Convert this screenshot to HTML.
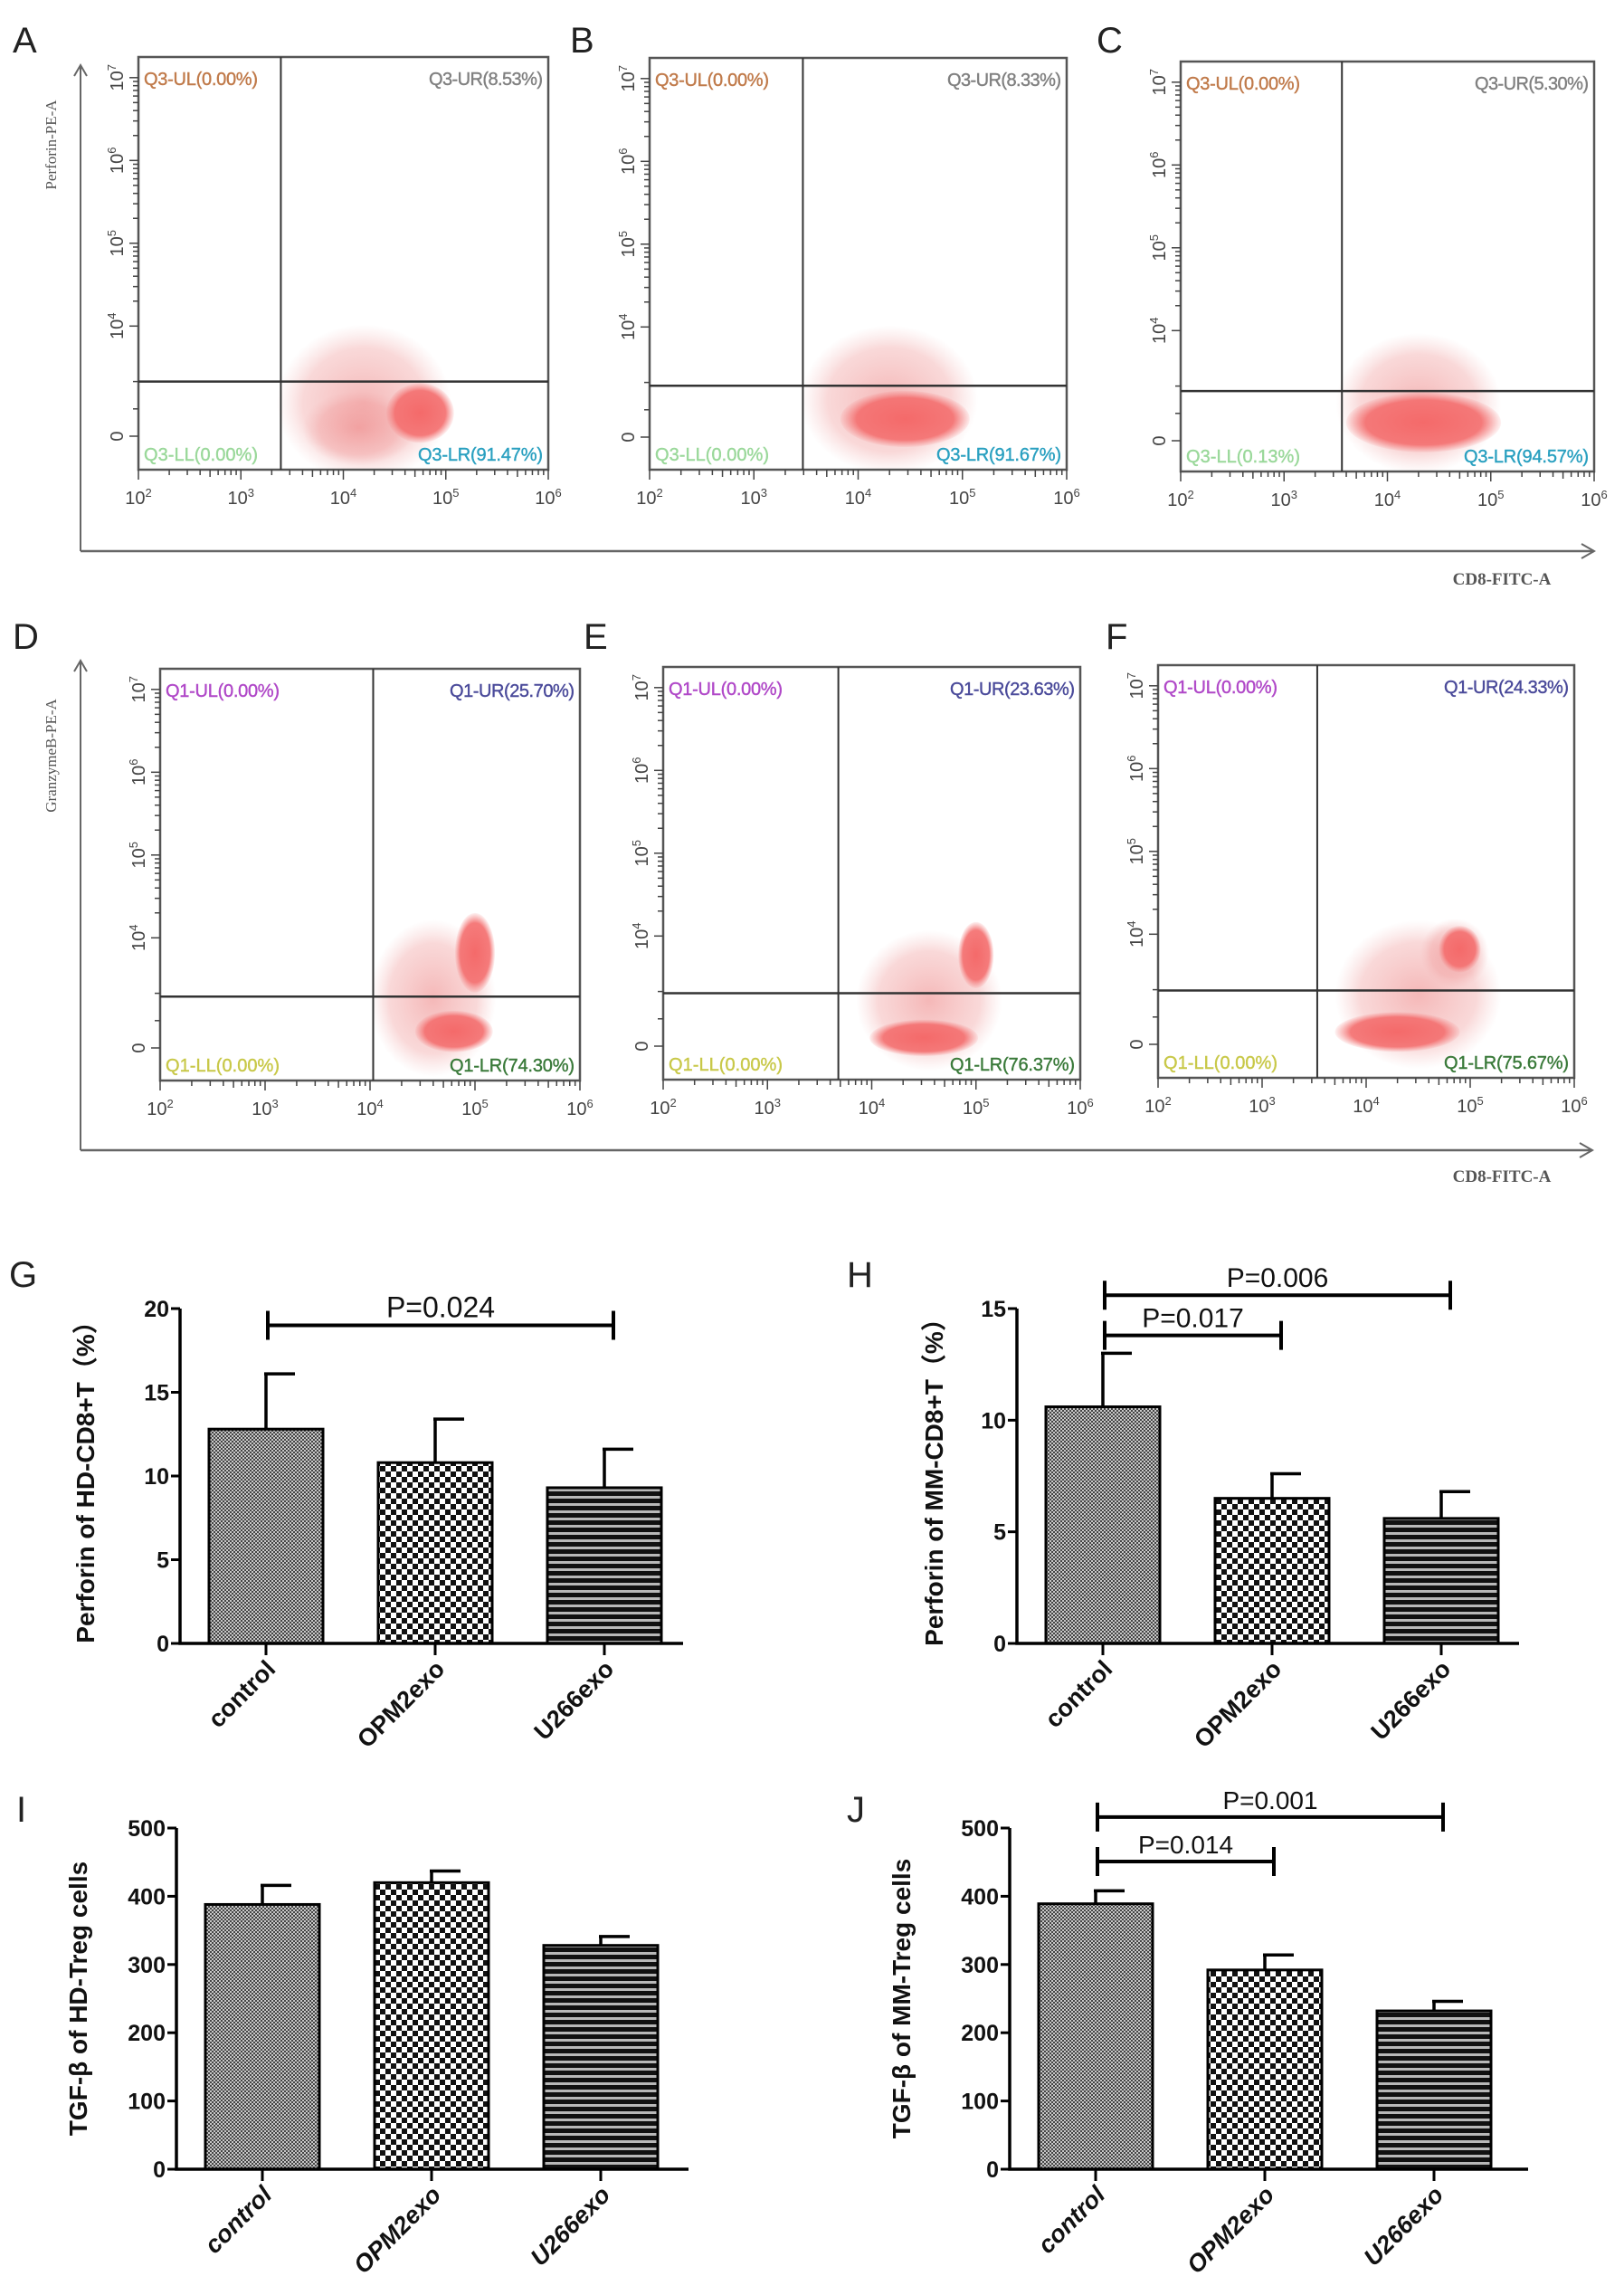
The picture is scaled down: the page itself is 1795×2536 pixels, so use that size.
<!DOCTYPE html>
<html>
<head>
<meta charset="utf-8">
<style>
html,body{margin:0;padding:0;background:#fff;}
svg{display:block;}
</style>
</head>
<body>
<svg id="fig" xmlns="http://www.w3.org/2000/svg" width="1795" height="2536" viewBox="0 0 1795 2536">
<defs>
  <radialGradient id="dense" cx="50%" cy="50%" r="50%">
    <stop offset="0" stop-color="#f46a6a" stop-opacity="1"/>
    <stop offset="0.75" stop-color="#f47070" stop-opacity="0.92"/>
    <stop offset="1" stop-color="#f48080" stop-opacity="0.1"/>
  </radialGradient>
  <radialGradient id="sparse" cx="50%" cy="50%" r="50%">
    <stop offset="0" stop-color="#ee8888" stop-opacity="0.6"/>
    <stop offset="0.7" stop-color="#f09a9a" stop-opacity="0.38"/>
    <stop offset="1" stop-color="#f0b0b0" stop-opacity="0"/>
  </radialGradient>
  <pattern id="patFine" width="4" height="4" patternUnits="userSpaceOnUse">
    <rect width="4" height="4" fill="#c8c8c8"/>
    <rect width="2" height="2" fill="#444"/>
    <rect x="2" y="2" width="2" height="2" fill="#444"/>
  </pattern>
  <pattern id="patCheck" width="12" height="12" patternUnits="userSpaceOnUse">
    <rect width="12" height="12" fill="#fff"/>
    <rect width="6" height="6" fill="#111"/>
    <rect x="6" y="6" width="6" height="6" fill="#111"/>
  </pattern>
  <pattern id="patStripe" width="8" height="8" patternUnits="userSpaceOnUse">
    <rect width="8" height="8" fill="#111"/>
    <rect y="5" width="8" height="3" fill="#b8b8b8"/>
  </pattern>
</defs>
<g id="flow"></g>
<g id="bars"></g>
</svg>
<script>
// ---------- FLOW DATA ----------
const flowIds = ['A','B','C','D','E','F'];
const flowQuadUL = ['Q3-UL(0.00%)','Q3-UL(0.00%)','Q3-UL(0.00%)','Q1-UL(0.00%)','Q1-UL(0.00%)','Q1-UL(0.00%)'];
const flowQuadUR = ['Q3-UR(8.53%)','Q3-UR(8.33%)','Q3-UR(5.30%)','Q1-UR(25.70%)','Q1-UR(23.63%)','Q1-UR(24.33%)'];
const flowQuadLL = ['Q3-LL(0.00%)','Q3-LL(0.00%)','Q3-LL(0.13%)','Q1-LL(0.00%)','Q1-LL(0.00%)','Q1-LL(0.00%)'];
const flowQuadLR = ['Q3-LR(91.47%)','Q3-LR(91.67%)','Q3-LR(94.57%)','Q1-LR(74.30%)','Q1-LR(76.37%)','Q1-LR(75.67%)'];
const flowGateX = [3.39, 3.47, 3.56, 4.03, 3.68, 3.53];
const flowGateY = [0.66, 0.62, 0.60, 0.62, 0.64, 0.65];
const flowClustersA = [[4.2,0.4,0.85,0.95,'s'],[4.15,0.1,0.55,0.45,'s'],[4.75,0.28,0.33,0.36,'d']];
const flowClustersB = [[4.3,0.45,0.85,0.9,'s'],[4.45,0.22,0.62,0.34,'d']];
const flowClustersC = [[4.3,0.45,0.8,0.85,'s'],[4.35,0.22,0.75,0.36,'d']];
const flowClustersD = [[4.6,0.6,0.6,0.95,'s'],[5.0,1.15,0.19,0.48,'d'],[4.8,0.2,0.37,0.25,'d']];
const flowClustersE = [[4.55,0.55,0.7,0.85,'s'],[5.0,1.1,0.17,0.4,'d'],[4.5,0.1,0.52,0.22,'d']];
const flowClustersF = [[4.5,0.6,0.8,0.9,'s'],[4.85,1.1,0.33,0.42,'s'],[4.9,1.15,0.2,0.28,'d'],[4.3,0.15,0.6,0.24,'d']];
const flowClusters = [flowClustersA,flowClustersB,flowClustersC,flowClustersD,flowClustersE,flowClustersF];
const flowXTicks = [2,3,4,5,6];
const flowYTickVals = [0,1.33,2.33,3.33,4.33];
const flowYTickLabels = ['0','10^4','10^5','10^6','10^7'];

// ---------- BAR DATA ----------
const categories = ['control','OPM2exo','U266exo'];
const gMeans = [12.8,10.8,9.3];
const gErr = [3.3,2.6,2.3];
const hMeans = [10.6,6.5,5.6];
const hErr = [2.4,1.1,1.2];
const iMeans = [388,420,328];
const iErr = [28,17,13];
const jMeans = [389,292,232];
const jErr = [19,22,14];
const gTicks = [0,5,10,15,20];
const hTicks = [0,5,10,15];
const ijTicks = [0,100,200,300,400,500];
const gSig = [[0,2,19.0,'P=0.024']];
const hSig = [[0,2,15.6,'P=0.006'],[0,1,13.8,'P=0.017']];
const jSig = [[0,2,516,'P=0.001'],[0,1,451,'P=0.014']];

const NS='http://www.w3.org/2000/svg';
function el(tag, attrs, parent){const e=document.createElementNS(NS,tag);for(const k in attrs)e.setAttribute(k,attrs[k]);parent.appendChild(e);return e;}

const flowBox = [[153,63,606,519,482],[718,64,1179,519,483],[1305,68,1762,521,487],
                 [177,739,641,1194,1158],[733,737,1194,1193,1156],[1280,735,1740,1191,1154]];
const flowLetterPos = [[14,58],[630,58],[1212,58],[14,717],[645,717],[1222,717]];
const ulColor = ['#c07a4a','#c07a4a','#c07a4a','#b048c8','#b048c8','#b048c8'];
const urColor = ['#808080','#808080','#808080','#4a4a9a','#4a4a9a','#4a4a9a'];
const llColor = ['#9ad89a','#9ad89a','#9ad89a','#c8c848','#c8c848','#c8c848'];
const lrColor = ['#2aa0c0','#2aa0c0','#2aa0c0','#3a7a3a','#3a7a3a','#3a7a3a'];

const flowG = document.getElementById('flow');
for(let p=0;p<6;p++){
  const [L,T,R,B,Z] = flowBox[p];
  const pxDecX = (R-L)/4, pxDecY = 91.5;
  const xS = v => L + (v-2)*pxDecX;
  const yS = v => Z - v*pxDecY;
  const g = el('g',{},flowG);
  
  
  const lt = el('text',{x:flowLetterPos[p][0],y:flowLetterPos[p][1],'font-family':'Liberation Sans, sans-serif','font-size':40,fill:'#222'},g);
  lt.textContent = flowIds[p];
  
  
  const cg = el('g',{},g);
  
  
  flowClusters[p].forEach(c=>{
    const e = el('ellipse',{cx:xS(c[0]),cy:yS(c[1]),rx:c[2]*pxDecX,ry:c[3]*pxDecY,fill:c[4]==='d'?'url(#dense)':'url(#sparse)'},cg);
    
    
  });
  el('rect',{x:L-2,y:B+1,width:R-L+4,height:40,fill:'#fff'},g);
  const box = el('rect',{x:L,y:T,width:R-L,height:B-T,fill:'none',stroke:'#555','stroke-width':2.5},g);
  
  
  const gx = xS(flowGateX[p]), gy = yS(flowGateY[p]);
  const gv = el('line',{x1:gx,y1:T,x2:gx,y2:B,stroke:'#333','stroke-width':2},g);
  
  
  const gh = el('line',{x1:L,y1:gy,x2:R,y2:gy,stroke:'#333','stroke-width':2.5},g);
  
  
  for(let d=2;d<6;d++){for(let k=1;k<10;k++){const xv=xS(d+Math.log10(k));el('line',{x1:xv,y1:B,x2:xv,y2:B+(k===1?11:(k===5?8:6)),stroke:'#444','stroke-width':1.5},g);}}
  el('line',{x1:R,y1:B,x2:R,y2:B+11,stroke:'#444','stroke-width':1.5},g);
  flowXTicks.forEach(t=>{
    const tx = el('text',{x:xS(t),y:B+38,'text-anchor':'middle','font-family':'Liberation Sans, sans-serif','font-size':20,fill:'#444'},g);
    tx.innerHTML = '10<tspan dy="-8" font-size="13">'+t+'</tspan>';
    
    
  });
  for(let d=1;d<4;d++){for(let k=1;k<10;k++){const yv=yS(1.33+(d-1)+Math.log10(k));el('line',{x1:L,y1:yv,x2:L-(k===1?10:6),y2:yv,stroke:'#444','stroke-width':1.5},g);}}
  [0,0.33,0.66].forEach(v=>el('line',{x1:L,y1:yS(v),x2:L-(v===0?10:6),y2:yS(v),stroke:'#444','stroke-width':1.5},g));
  el('line',{x1:L,y1:yS(4.33),x2:L-10,y2:yS(4.33),stroke:'#444','stroke-width':1.5},g);
  flowYTickVals.forEach((v,i)=>{
    const yy=yS(v), xx=L-17;
    const tx = el('text',{x:0,y:0,transform:'translate('+xx+','+yy+') rotate(-90)','text-anchor':'middle','font-family':'Liberation Sans, sans-serif','font-size':20,fill:'#444'},g);
    const lab = flowYTickLabels[i];
    if(lab==='0') tx.textContent='0'; else tx.innerHTML='10<tspan dy="-8" font-size="13">'+lab.split('^')[1]+'</tspan>';
    
    
  });
  const qs=[[flowQuadUL[p],L+6,T+31,'start',ulColor[p],'quadrant-ul'],[flowQuadUR[p],R-6,T+31,'end',urColor[p],'quadrant-ur'],
            [flowQuadLL[p],L+6,B-10,'start',llColor[p],'quadrant-ll'],[flowQuadLR[p],R-6,B-10,'end',lrColor[p],'quadrant-lr']];
  qs.forEach(q=>{
    const t = el('text',{x:q[1],y:q[2],'text-anchor':q[3],'font-family':'Liberation Sans, sans-serif','font-size':20,fill:q[4],stroke:q[4],'stroke-width':0.4,textLength:(q[0].length>12?138:126)},g);
    t.textContent=q[0];
    
    
  });
}
function bigAxes(yTop,yBot,xEnd,ylab,ylabY,xlabY){
  const g = el('g',{},flowG);
  
  
  el('line',{x1:89,y1:yTop,x2:89,y2:yBot,stroke:'#666','stroke-width':2},g);
  el('path',{d:'M82 '+(yTop+12)+' L89 '+yTop+' L96 '+(yTop+12),fill:'none',stroke:'#666','stroke-width':2},g);
  el('line',{x1:89,y1:yBot,x2:xEnd,y2:yBot,stroke:'#666','stroke-width':2.5},g);
  el('path',{d:'M'+(xEnd-14)+' '+(yBot-8)+' L'+xEnd+' '+yBot+' L'+(xEnd-14)+' '+(yBot+8),fill:'none',stroke:'#666','stroke-width':2},g);
  const yl = el('text',{x:0,y:0,transform:'translate(62,'+ylabY+') rotate(-90)','text-anchor':'middle','font-family':'Liberation Serif, serif','font-size':17,fill:'#555'},g);
  yl.textContent=ylab;
  
  
  const xl = el('text',{x:1660,y:xlabY,'text-anchor':'middle','font-family':'Liberation Serif, serif','font-size':19,'font-weight':'bold',fill:'#555'},g);
  xl.textContent='CD8-FITC-A';
  
  
}
bigAxes(72,609,1762,'Perforin-PE-A',160,646);
bigAxes(730,1271,1760,'GranzymeB-PE-A',835,1306);

const barPats = ['url(#patFine)','url(#patCheck)','url(#patStripe)'];
const barsG = document.getElementById('bars');
function barChart(cfg){
  const {letter,lx,ly,x0,xEnd,yTop,yBot,max,means,errs,ticks,sig,ylab,ylabX,pFont} = cfg;
  const g = el('g',{},barsG);
  
  
  const yS = v => yBot - v/max*(yBot-yTop);
  const xC = i => x0 + 95 + 187*i;
  const bw = 126;
  const rot = -45;
  const lt = el('text',{x:lx,y:ly,'font-family':'Liberation Sans, sans-serif','font-size':40,fill:'#222'},g);
  lt.textContent=letter;
  
  
  means.forEach((m,i)=>{
    const r = el('rect',{x:xC(i)-bw/2,y:yS(m),width:bw,height:yBot-yS(m),fill:barPats[i],stroke:'#000','stroke-width':3},g);
    
    
    const top = yS(m+errs[i]);
    const e = el('path',{d:'M'+xC(i)+' '+yS(m)+' V'+top+' M'+(xC(i)-2)+' '+top+' H'+(xC(i)+32),stroke:'#000','stroke-width':3.5,fill:'none'},g);
    
    
    el('line',{x1:xC(i),y1:yBot,x2:xC(i),y2:yBot+13,stroke:'#000','stroke-width':3},g);
    const ct = el('text',{x:0,y:0,transform:'translate('+(xC(i)+12)+','+(yBot+30)+') rotate('+rot+')','text-anchor':'end','font-family':'Liberation Sans, sans-serif','font-size':27,'font-weight':'bold','font-style':cfg.italic?'italic':'normal',fill:'#111'},g);
    ct.textContent=categories[i];
    
    
  });
  const ax = el('path',{d:'M'+x0+' '+yS(max)+' V'+yBot+' H'+xEnd,stroke:'#000','stroke-width':3.5,fill:'none'},g);
  
  
  ticks.forEach(t=>{
    el('line',{x1:x0,y1:yS(t),x2:x0-10,y2:yS(t),stroke:'#000','stroke-width':3},g);
    const tt = el('text',{x:x0-12,y:yS(t)+9,'text-anchor':'end','font-family':'Liberation Sans, sans-serif','font-size':25,'font-weight':'bold',fill:'#111'},g);
    tt.textContent=t;
    
    
  });
  sig.forEach(s=>{
    const a=xC(s[0])+2, b=xC(s[1])+10, yy=yS(s[2]);
    const sl = el('path',{d:'M'+a+' '+(yy-16)+' V'+(yy+16)+' M'+a+' '+yy+' H'+b+' M'+b+' '+(yy-16)+' V'+(yy+16),stroke:'#000','stroke-width':4,fill:'none'},g);
    
    
    const st = el('text',{x:(a+b)/2,y:yy-9,'text-anchor':'middle','font-family':'Liberation Sans, sans-serif','font-size':pFont,fill:'#111'},g);
    st.textContent=s[3];
    
    
  });
  const yl = el('text',{x:0,y:0,transform:'translate('+ylabX+','+((yTop+yBot)/2)+') rotate(-90)','text-anchor':'middle','font-family':'Liberation Sans, "Noto Sans CJK SC", sans-serif','font-size':28,'font-weight':'bold',fill:'#111'},g);
  yl.textContent=ylab;
  
  
}
barChart({letter:'G',lx:10,ly:1422,x0:199,xEnd:755,yTop:1446,yBot:1816,max:20,means:gMeans,errs:gErr,ticks:gTicks,sig:gSig,ylab:'Perforin of HD-CD8+T（%）',ylabX:104,pFont:32});
barChart({letter:'H',lx:936,ly:1422,x0:1124,xEnd:1679,yTop:1446,yBot:1816,max:15,means:hMeans,errs:hErr,ticks:hTicks,sig:hSig,ylab:'Perforin of MM-CD8+T（%）',ylabX:1042,pFont:30});
barChart({letter:'I',lx:18,ly:2013,x0:195,xEnd:761,yTop:2020,yBot:2397,max:500,means:iMeans,errs:iErr,ticks:ijTicks,sig:[],ylab:'TGF-β  of HD-Treg cells',ylabX:96,pFont:28,italic:true});
barChart({letter:'J',lx:936,ly:2013,x0:1116,xEnd:1689,yTop:2020,yBot:2397,max:500,means:jMeans,errs:jErr,ticks:ijTicks,sig:jSig,ylab:'TGF-β  of MM-Treg cells',ylabX:1006,pFont:28,italic:true});
</script>
</body>
</html>
